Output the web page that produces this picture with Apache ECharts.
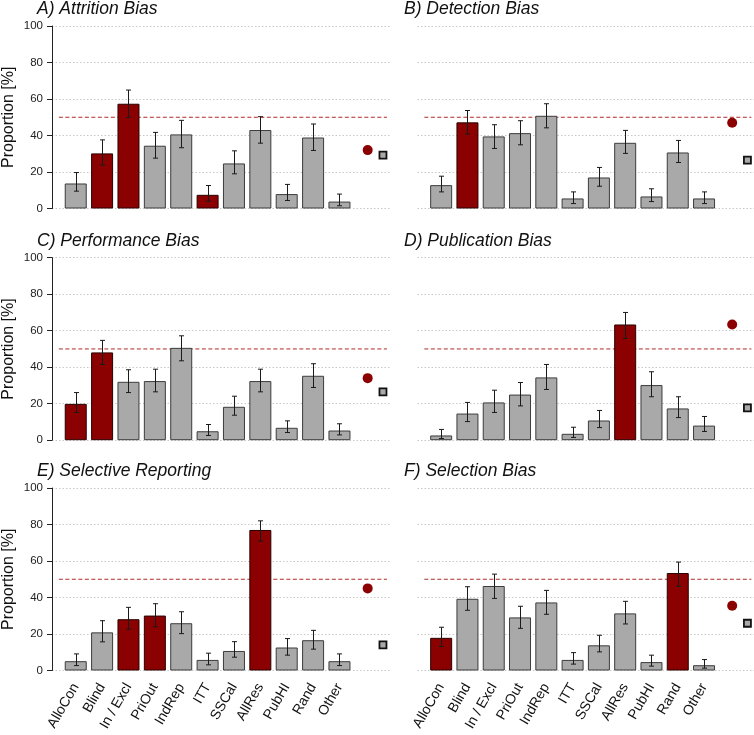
<!DOCTYPE html>
<html><head><meta charset="utf-8">
<script src="https://cdn.jsdelivr.net/npm/echarts@6/dist/echarts.min.js"></script>
<style>html,body{margin:0;padding:0;background:#fff}#c{width:754px;height:735px}</style>
</head><body><div id="c"></div>
<script>
// ---------- data ----------
const categories = ["AlloCon","Blind","In / Excl","PriOut","IndRep","ITT","SSCal","AllRes","PubHI","Rand","Other"];
const panelTitles = ["A) Attrition Bias","B) Detection Bias","C) Performance Bias","D) Publication Bias","E) Selective Reporting","F) Selection Bias"];
const yTicks = [0,20,40,60,80,100];

const attritionMean = [13.7,30.2,57.4,34.4,40.6,7.5,24.7,43.0,7.9,38.9,3.8];
const attritionLow  = [9.5,23.8,49.9,27.6,33.3,4.0,19.0,35.8,4.4,31.8,1.5];
const attritionHigh = [19.7,37.6,64.9,41.7,48.3,12.6,31.6,50.3,13.2,46.3,7.9];
const attritionRed  = ["Blind","In / Excl","ITT"];

const detectionMean = [12.8,47.2,39.5,41.3,50.8,5.5,17.0,36.0,6.6,30.7,5.5];
const detectionLow  = [9.1,40.8,32.9,34.9,44.2,2.7,12.2,30.2,3.8,25.2,2.7];
const detectionHigh = [17.7,53.7,45.9,48.1,57.4,9.1,22.5,42.8,10.8,37.3,9.1];
const detectionRed  = ["Blind"];

const performanceMean = [19.9,48.1,32.0,32.4,50.6,4.9,18.3,32.4,6.8,35.3,5.3];
const performanceLow  = [15.2,41.5,26.1,26.5,43.5,2.6,13.7,26.5,4.2,28.9,2.9];
const performanceHigh = [26.1,54.7,38.6,38.9,57.2,8.6,24.1,38.9,10.6,41.9,9.0];
const performanceRed  = ["AlloCon","Blind"];

const publicationMean = [2.6,14.6,20.7,25.0,34.4,3.5,10.8,63.4,30.2,17.4,8.0];
const publicationLow  = [0.9,10.2,15.2,18.8,27.8,1.5,6.9,55.7,23.8,12.4,4.8];
const publicationHigh = [5.9,20.7,27.4,31.6,41.5,7.1,16.3,70.0,37.5,23.8,13.0];
const publicationRed  = ["AllRes"];

const reportingMean = [5.1,20.9,28.1,30.1,25.9,5.8,10.7,77.0,12.6,16.6,5.1];
const reportingLow  = [2.7,15.7,22.6,24.0,20.2,3.1,7.3,70.9,8.4,11.7,2.7];
const reportingHigh = [9.1,27.3,34.6,36.6,32.2,9.5,15.8,82.0,17.5,22.0,9.1];
const reportingRed  = ["In / Excl","PriOut","AllRes"];

const selectionMean = [17.9,39.3,46.3,29.1,37.3,5.8,13.8,31.3,4.6,53.4,2.9];
const selectionLow  = [13.1,33.0,39.5,23.1,30.8,3.5,10.2,25.5,2.4,46.1,1.3];
const selectionHigh = [23.7,45.9,52.8,35.2,43.9,9.8,19.3,37.9,8.4,59.4,6.0];
const selectionRed  = ["AlloCon","Rand"];

const dotValues    = [32.0,47.0,34.0,63.4,45.0,35.5];
const squareValues = [29.2,26.5,26.5,17.7,14.0,25.9];
const referenceLine = 50;

// ---------- layout ----------
const panels = [
  {mean:attritionMean, low:attritionLow, high:attritionHigh, red:attritionRed},
  {mean:detectionMean, low:detectionLow, high:detectionHigh, red:detectionRed},
  {mean:performanceMean, low:performanceLow, high:performanceHigh, red:performanceRed},
  {mean:publicationMean, low:publicationLow, high:publicationHigh, red:publicationRed},
  {mean:reportingMean, low:reportingLow, high:reportingHigh, red:reportingRed},
  {mean:selectionMean, low:selectionLow, high:selectionHigh, red:selectionRed}
];
const FONT = "'Liberation Sans', Arial, Helvetica, sans-serif";
const colLeft = [51, 417.5];
const rowTop = [26, 257.7, 488];
const gridH = 182.5;
const xMin = -0.9, xMax = 11.9, band = 26.45;
const gridW = (xMax - xMin) * band;
const DOT_X = 11.07, SQ_X = 11.65;
const LINE_X0 = -0.64, LINE_X1 = 11.8;
const RED = '#8B0000', GREY = '#A9A9A9';

const grids = [], xAxes = [], yAxes = [], series = [], titles = [];
panels.forEach((p, k) => {
  const col = k % 2, row = Math.floor(k / 2);
  const isLeft = col === 0, isBottom = row === 2;
  grids.push({left: colLeft[col], top: rowTop[row], width: gridW, height: gridH, containLabel: false});
  titles.push({
    text: panelTitles[k], left: isLeft ? 37 : 404, top: rowTop[row] - 26, padding: 0,
    textStyle: {fontFamily: FONT, fontStyle: 'italic', fontWeight: 'normal', fontSize: 17.5, color: '#111', lineHeight: 18}
  });
  xAxes.push({
    type: 'value', gridIndex: k, min: xMin, max: xMax,
    axisLine: {show: false}, axisTick: {show: false}, splitLine: {show: false},
    axisLabel: {
      show: isBottom, customValues: categories.map((c, i) => i),
      formatter: v => categories[Math.round(v)] || '',
      rotate: 60, fontSize: 14, fontFamily: FONT, color: '#111', margin: 14
    }
  });
  yAxes.push({
    type: 'value', gridIndex: k, min: 0, max: 100, interval: 20,
    name: isLeft ? 'Proportion [%]' : '', nameLocation: 'middle', nameGap: 35,
    nameTextStyle: {fontFamily: FONT, fontSize: 16, color: '#111'},
    axisLine: {show: isLeft, onZero: false, lineStyle: {color: '#222', width: 1}},
    axisTick: {show: isLeft, length: 5, lineStyle: {color: '#222'}},
    axisLabel: {show: isLeft, fontFamily: FONT, fontSize: 11.5, color: '#222', margin: 9},
    splitLine: {show: true, lineStyle: {color: '#c8c8c8', type: [1.5, 2], width: 1}}
  });
  // reference line at 50 %
  series.push({
    type: 'line', xAxisIndex: k, yAxisIndex: k, z: 1, symbol: 'none', silent: true,
    lineStyle: {color: '#b22a2a', type: [4, 2.5], width: 1},
    data: [[LINE_X0, referenceLine], [LINE_X1, referenceLine]]
  });
  const barData = p.mean.map((v, i) => ({
    value: [i, v],
    itemStyle: {color: p.red.includes(categories[i]) ? RED : GREY,
                borderColor: p.red.includes(categories[i]) ? '#2a0000' : '#3c3c3c', borderWidth: 1}
  }));
  series.push({type: 'bar', xAxisIndex: k, yAxisIndex: k, barWidth: 22, data: barData, z: 2});
  series.push({
    type: 'custom', xAxisIndex: k, yAxisIndex: k, z: 3,
    data: p.mean.map((v, i) => [i, p.low[i], p.high[i]]),
    renderItem: (params, api) => {
      const lo = api.coord([api.value(0), api.value(1)]);
      const hi = api.coord([api.value(0), api.value(2)]);
      const x = Math.round(lo[0]) + 0.5, cw = 2.5;
      const st = {stroke: '#1a1a1a', lineWidth: 1};
      return {type: 'group', children: [
        {type: 'line', shape: {x1: x, y1: lo[1], x2: x, y2: hi[1]}, style: st},
        {type: 'line', shape: {x1: x - cw, y1: lo[1], x2: x + cw, y2: lo[1]}, style: st},
        {type: 'line', shape: {x1: x - cw, y1: hi[1], x2: x + cw, y2: hi[1]}, style: st}
      ]};
    }
  });
  series.push({
    type: 'scatter', xAxisIndex: k, yAxisIndex: k, symbol: 'circle', symbolSize: 10, z: 4,
    itemStyle: {color: RED, opacity: 1}, data: [[DOT_X, dotValues[k]]]
  });
  series.push({
    type: 'scatter', xAxisIndex: k, yAxisIndex: k, symbol: 'rect', symbolSize: 7, z: 4,
    itemStyle: {color: GREY, borderColor: '#111', borderWidth: 1.8, opacity: 1}, data: [[SQ_X, squareValues[k]]]
  });
});

const chart = echarts.init(document.getElementById('c'), null, {renderer: 'canvas'});
chart.setOption({
  animation: false, backgroundColor: '#fff',
  title: titles, grid: grids, xAxis: xAxes, yAxis: yAxes, series: series,
  tooltip: {show: false}
});
</script></body></html>
